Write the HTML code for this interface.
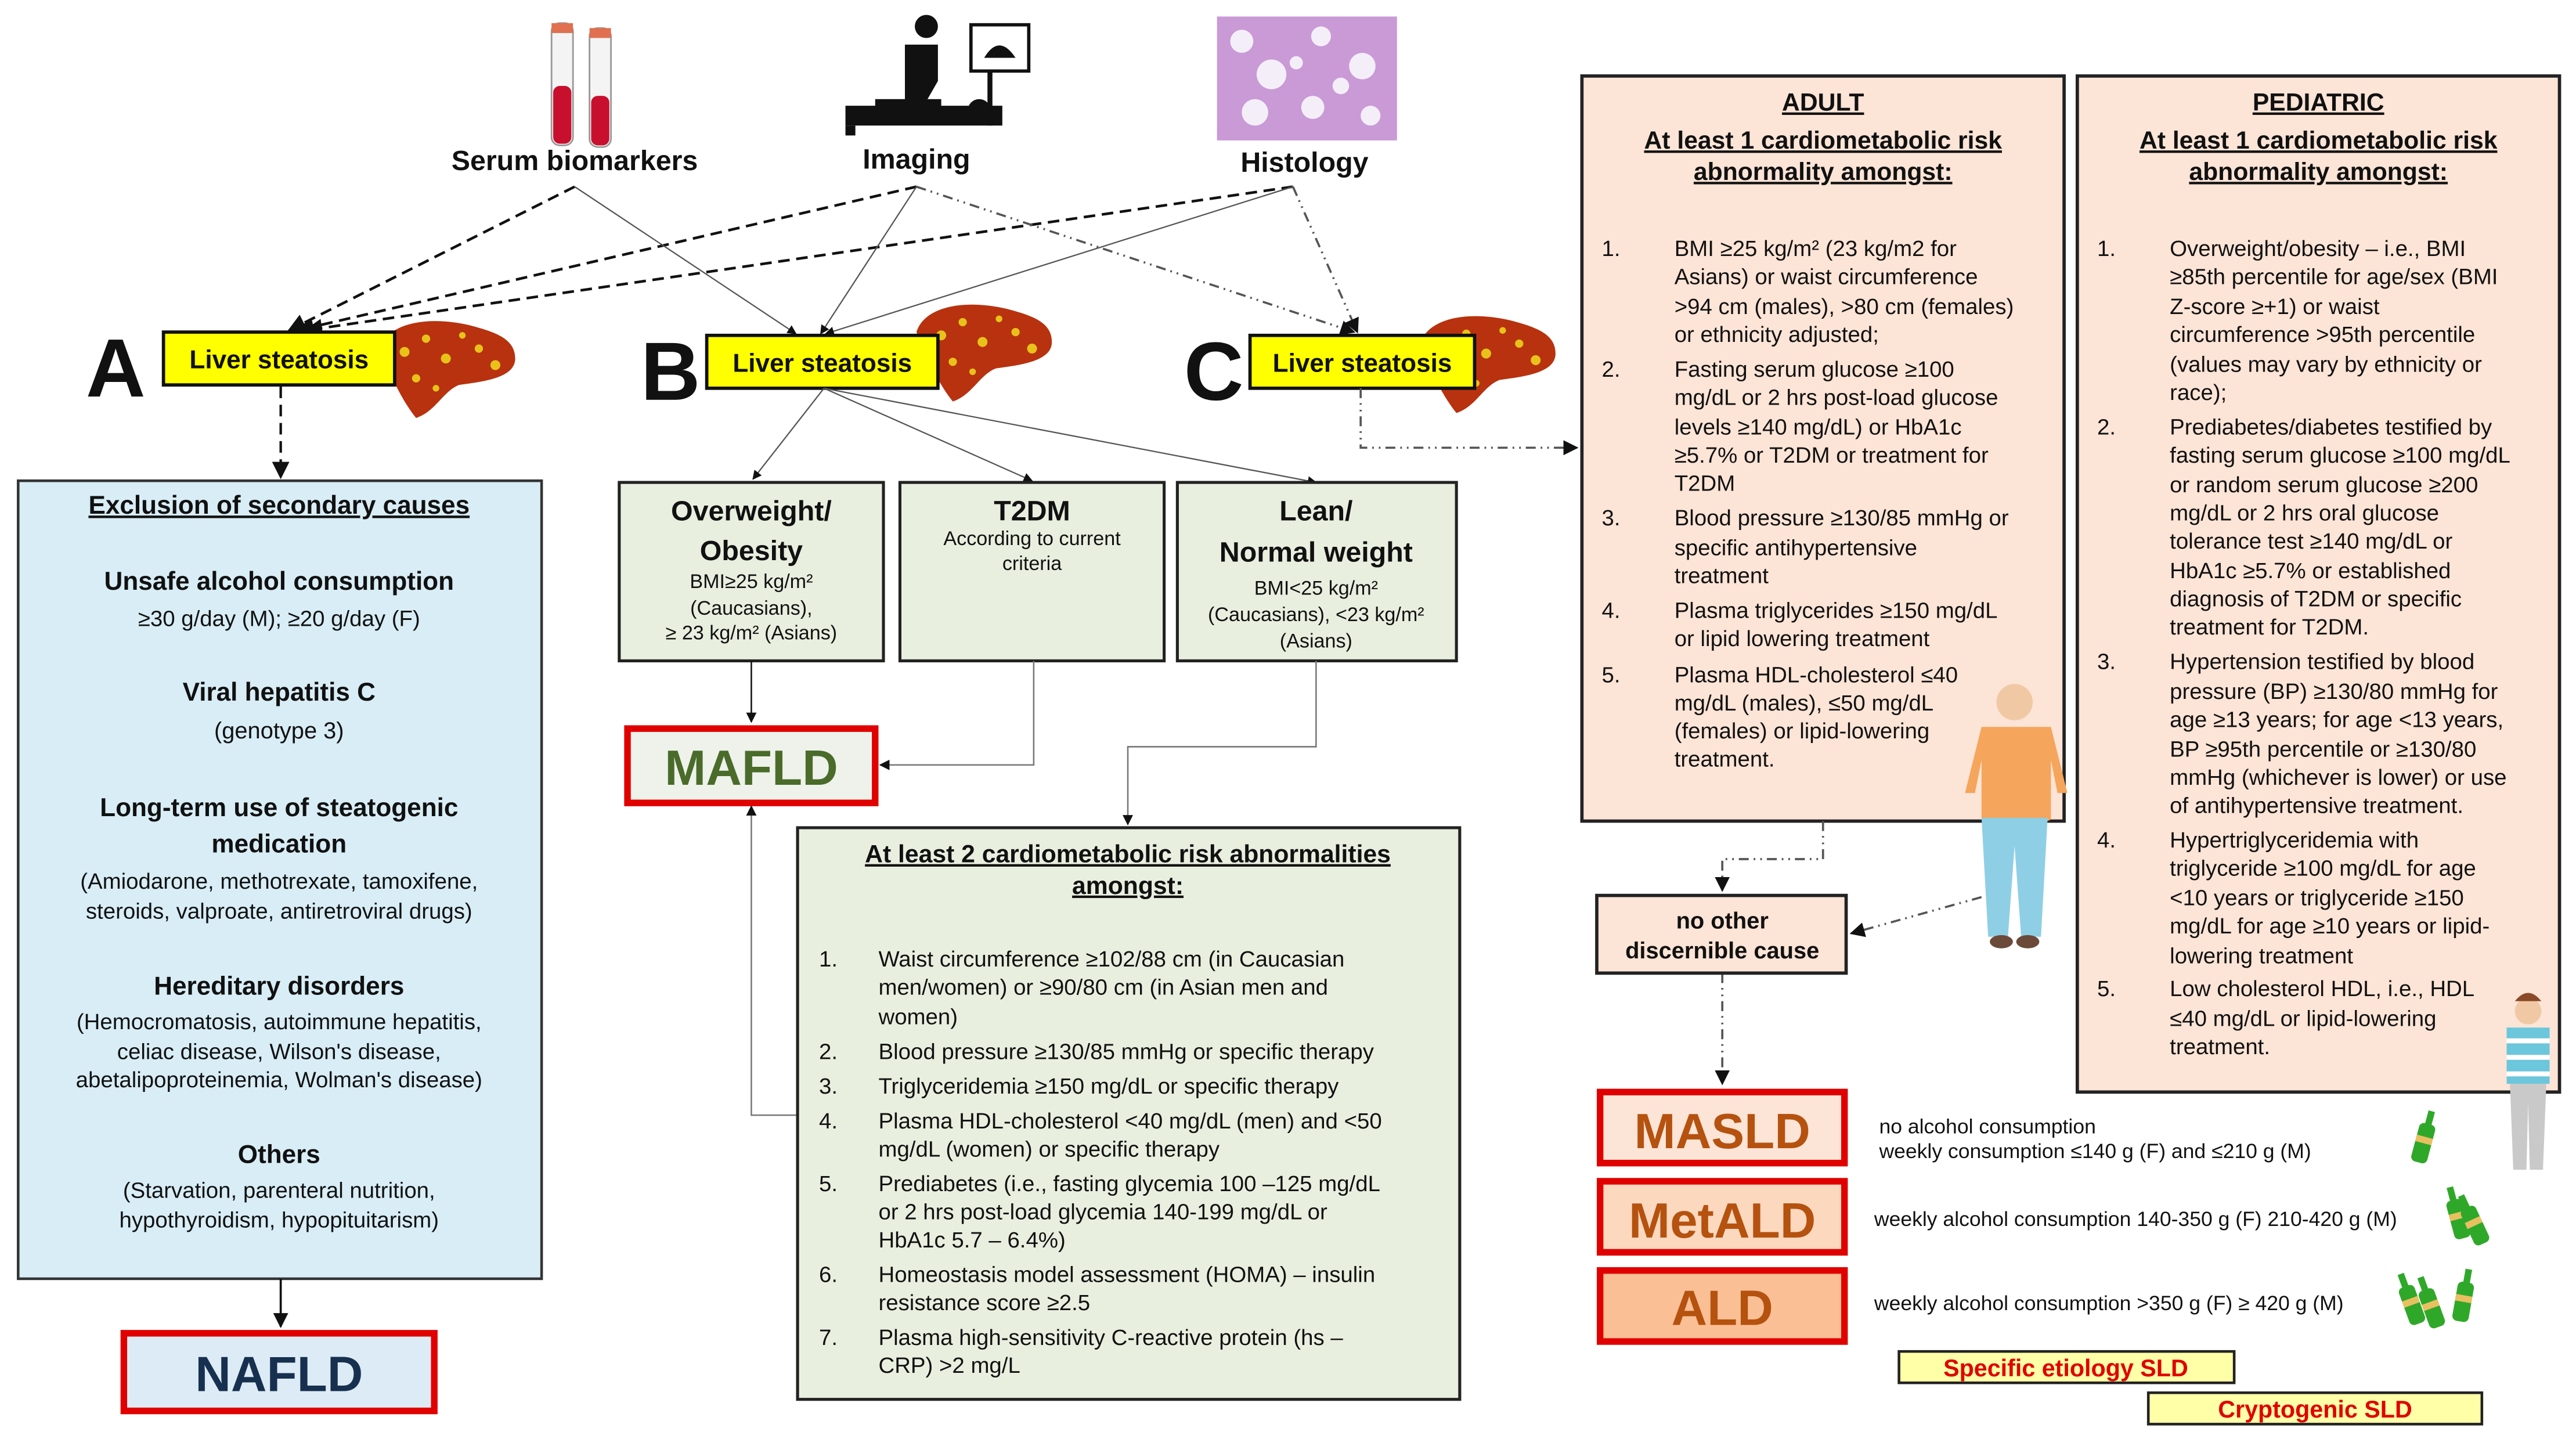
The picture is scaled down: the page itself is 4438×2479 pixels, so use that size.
<!DOCTYPE html>
<html><head><meta charset="utf-8"><style>
html,body{margin:0;padding:0;background:#fff}
svg{display:block}
text{font-family:"Liberation Sans",Arial,sans-serif;fill:#111}
.b{font-weight:bold}
.it{font-size:13.5px}
</style></head><body>
<svg width="4438" height="2479" viewBox="0 0 1560 871" preserveAspectRatio="none" xmlns="http://www.w3.org/2000/svg">
<defs>
<marker id="ar" viewBox="0 0 10 10" refX="9" refY="5" markerWidth="7" markerHeight="7" orient="auto-start-reverse"><path d="M0,0 L10,5 L0,10 z" fill="#111"/></marker>
<g id="liver"><path d="M0,18 C5,2 30,-2 55,4 C70,8 82,12 82,24 C82,36 62,38 48,40 C38,44 34,56 22,60 C14,50 8,38 0,18 z" fill="#B8320F"/><circle cx="15" cy="20" r="3" fill="#E8C21A"/><circle cx="28" cy="12" r="2.5" fill="#E8C21A"/><circle cx="40" cy="24" r="3" fill="#E8C21A"/><circle cx="22" cy="36" r="2.5" fill="#E8C21A"/><circle cx="60" cy="18" r="2.5" fill="#E8C21A"/><circle cx="70" cy="28" r="3" fill="#E8C21A"/><circle cx="34" cy="42" r="2" fill="#E8C21A"/><circle cx="50" cy="10" r="2" fill="#E8C21A"/></g>
<g id="bottle"><rect x="-5" y="8" width="10" height="24" rx="3" fill="#2fa82a"/><rect x="-2" y="0" width="4" height="10" fill="#2fa82a"/><rect x="-5" y="16" width="10" height="4" fill="#e8c060"/></g>
</defs>

<!-- top icons -->
<rect x="334" y="14" width="13" height="74" rx="5" fill="#f4f4f4" stroke="#999"/><rect x="335" y="52" width="11" height="35" rx="4" fill="#c8102e"/><rect x="334" y="14" width="13" height="6" fill="#e07050"/>
<rect x="357" y="17" width="13" height="72" rx="5" fill="#f4f4f4" stroke="#999"/><rect x="358" y="58" width="11" height="30" rx="4" fill="#c8102e"/><rect x="357" y="17" width="13" height="6" fill="#e07050"/>
<text x="348" y="103" class="b" font-size="17" text-anchor="middle">Serum biomarkers</text>
<g fill="#111"><circle cx="561" cy="16" r="7"/><path d="M548,27 h20 v22 l-8,14 h-12 z"/><rect x="512" y="64" width="95" height="12"/><rect x="512" y="76" width="6" height="6"/><rect x="598" y="40" width="3" height="36"/><circle cx="593" cy="67" r="7"/><path d="M530,60 h40 v6 h-40z"/></g>
<rect x="588" y="15" width="35" height="28" fill="#fff" stroke="#111" stroke-width="2"/><path d="M596,35 Q605,20 615,35 z" fill="#111"/>
<text x="555" y="102" class="b" font-size="17" text-anchor="middle">Imaging</text>
<rect x="737" y="10" width="109" height="75" fill="#c99ad6"/>
<g fill="#f4eef8"><circle cx="752" cy="25" r="7"/><circle cx="770" cy="45" r="9"/><circle cx="800" cy="22" r="6"/><circle cx="825" cy="40" r="8"/><circle cx="760" cy="68" r="8"/><circle cx="795" cy="65" r="7"/><circle cx="830" cy="70" r="6"/><circle cx="812" cy="52" r="5"/><circle cx="785" cy="38" r="4"/></g>
<text x="790" y="104" class="b" font-size="17" text-anchor="middle">Histology</text>

<!-- connectors from top -->
<g fill="none" stroke="#111" stroke-width="1.6" stroke-dasharray="7 4">
<path d="M348,113 L175,200" marker-end="url(#ar)"/><path d="M555,113 L180,200" marker-end="url(#ar)"/><path d="M783,113 L185,200" marker-end="url(#ar)"/>
</g>
<g fill="none" stroke="#555" stroke-width="0.8">
<path d="M348,113 L482,202" marker-end="url(#ar)"/><path d="M555,113 L497,202" marker-end="url(#ar)"/><path d="M783,113 L500,202" marker-end="url(#ar)"/>
</g>
<g fill="none" stroke="#555" stroke-width="1.3" stroke-dasharray="6 3 1 3 1 3">
<path d="M555,113 L820,201" marker-end="url(#ar)"/><path d="M783,113 L822,201" marker-end="url(#ar)"/>
</g>

<!-- A B C -->
<text x="52" y="240" class="b" font-size="50">A</text>
<text x="388" y="242" class="b" font-size="50">B</text>
<text x="717" y="242" class="b" font-size="50">C</text>
<use href="#liver" x="230" y="193"/>
<use href="#liver" x="555" y="183"/>
<use href="#liver" x="860" y="190"/>
<rect x="99" y="201" width="140" height="32" fill="#ffff00" stroke="#111" stroke-width="2"/>
<text x="169" y="223" class="b" font-size="15.5" text-anchor="middle">Liver steatosis</text>
<rect x="428" y="203" width="140" height="32" fill="#ffff00" stroke="#111" stroke-width="2"/>
<text x="498" y="225" class="b" font-size="15.5" text-anchor="middle">Liver steatosis</text>
<rect x="757" y="203" width="136" height="32" fill="#ffff00" stroke="#111" stroke-width="2"/>
<text x="825" y="225" class="b" font-size="15.5" text-anchor="middle">Liver steatosis</text>

<!-- A column -->
<path d="M170,234 V289" stroke="#111" stroke-width="1.5" stroke-dasharray="7 4" fill="none" marker-end="url(#ar)"/>
<rect x="11" y="291" width="317" height="483" fill="#d8edf6" stroke="#333" stroke-width="1.6"/>
<g text-anchor="middle">
<text x="169" y="311" class="b" font-size="15.5" text-decoration="underline">Exclusion of secondary causes</text>
<text x="169" y="357" class="b" font-size="15.5">Unsafe alcohol consumption</text>
<text x="169" y="379" font-size="13.5">≥30 g/day (M); ≥20 g/day (F)</text>
<text x="169" y="424" class="b" font-size="15.5">Viral hepatitis C</text>
<text x="169" y="447" font-size="14">(genotype 3)</text>
<text x="169" y="494" class="b" font-size="15.5">Long-term use of steatogenic</text>
<text x="169" y="516" class="b" font-size="15.5">medication</text>
<text x="169" y="538" font-size="13.5">(Amiodarone, methotrexate, tamoxifene,</text>
<text x="169" y="556" font-size="13.5">steroids, valproate, antiretroviral drugs)</text>
<text x="169" y="602" class="b" font-size="15.5">Hereditary disorders</text>
<text x="169" y="623" font-size="13.5">(Hemocromatosis, autoimmune hepatitis,</text>
<text x="169" y="641" font-size="13.5">celiac disease, Wilson's disease,</text>
<text x="169" y="658" font-size="13.5">abetalipoproteinemia, Wolman's disease)</text>
<text x="169" y="704" class="b" font-size="15.5">Others</text>
<text x="169" y="725" font-size="13.5">(Starvation, parenteral nutrition,</text>
<text x="169" y="743" font-size="13.5">hypothyroidism, hypopituitarism)</text>
</g>
<path d="M170,774 V803" stroke="#111" stroke-width="1.3" fill="none" marker-end="url(#ar)"/>
<rect x="75" y="807" width="188" height="47" fill="#dcebf5" stroke="#e00000" stroke-width="4"/>
<text x="169" y="842" class="b" font-size="30" text-anchor="middle" style="fill:#17304f">NAFLD</text>

<!-- B column -->
<g fill="none" stroke="#555" stroke-width="0.8">
<path d="M499,235 L456,290" marker-end="url(#ar)"/><path d="M499,235 L625,291" marker-end="url(#ar)"/><path d="M499,235 L797,292" marker-end="url(#ar)"/>
</g>
<g fill="#e8efdf" stroke="#222" stroke-width="1.8">
<rect x="375" y="292" width="160" height="108"/><rect x="545" y="292" width="160" height="108"/><rect x="713" y="292" width="169" height="108"/>
</g>
<g text-anchor="middle">
<text x="455" y="315" class="b" font-size="17">Overweight/</text>
<text x="455" y="339" class="b" font-size="17">Obesity</text>
<text x="455" y="356" font-size="12">BMI≥25 kg/m²</text>
<text x="455" y="372" font-size="12">(Caucasians),</text>
<text x="455" y="387" font-size="12">≥ 23 kg/m² (Asians)</text>
<text x="625" y="315" class="b" font-size="17">T2DM</text>
<text x="625" y="330" font-size="12">According to current</text>
<text x="625" y="345" font-size="12">criteria</text>
<text x="797" y="315" class="b" font-size="17">Lean/</text>
<text x="797" y="340" class="b" font-size="17">Normal weight</text>
<text x="797" y="360" font-size="12">BMI&lt;25 kg/m²</text>
<text x="797" y="376" font-size="12">(Caucasians), &lt;23 kg/m²</text>
<text x="797" y="392" font-size="12">(Asians)</text>
</g>
<g fill="none" stroke="#777" stroke-width="0.9">
<path d="M455,400 V437" stroke="#111" marker-end="url(#ar)"/>
<path d="M626,400 V463 H533" marker-end="url(#ar)"/>
<path d="M797,400 V452 H683 V499" marker-end="url(#ar)"/>
<path d="M483,675 H455 V488" marker-end="url(#ar)"/>
</g>
<rect x="380" y="441" width="150" height="45" fill="#eef2ea" stroke="#e00000" stroke-width="4"/>
<text x="455" y="475" class="b" font-size="30" text-anchor="middle" style="fill:#4a6b2a">MAFLD</text>

<rect x="483" y="501" width="401" height="346" fill="#e8efdf" stroke="#222" stroke-width="1.8"/>
<text x="683" y="522" class="b" font-size="15" text-anchor="middle" text-decoration="underline">At least 2 cardiometabolic risk abnormalities</text>
<text x="683" y="541" class="b" font-size="15" text-anchor="middle" text-decoration="underline">amongst:</text>
<g class="it">
<text x="496" y="585">1.</text><text x="532" y="585">Waist circumference ≥102/88 cm (in Caucasian</text><text x="532" y="602">men/women) or ≥90/80 cm (in Asian men and</text><text x="532" y="620">women)</text>
<text x="496" y="641">2.</text><text x="532" y="641">Blood pressure ≥130/85 mmHg or specific therapy</text>
<text x="496" y="662">3.</text><text x="532" y="662">Triglyceridemia ≥150 mg/dL or specific therapy</text>
<text x="496" y="683">4.</text><text x="532" y="683">Plasma HDL-cholesterol &lt;40 mg/dL (men) and &lt;50</text><text x="532" y="700">mg/dL (women) or specific therapy</text>
<text x="496" y="721">5.</text><text x="532" y="721">Prediabetes (i.e., fasting glycemia 100 –125 mg/dL</text><text x="532" y="738">or 2 hrs post-load glycemia 140-199 mg/dL or</text><text x="532" y="755">HbA1c 5.7 – 6.4%)</text>
<text x="496" y="776">6.</text><text x="532" y="776">Homeostasis model assessment (HOMA) – insulin</text><text x="532" y="793">resistance score ≥2.5</text>
<text x="496" y="814">7.</text><text x="532" y="814">Plasma high-sensitivity C-reactive protein (hs –</text><text x="532" y="831">CRP) &gt;2 mg/L</text>
</g>

<!-- C column -->
<path d="M824,235 V271 H955" fill="none" stroke="#555" stroke-width="1.3" stroke-dasharray="6 3 1 3 1 3" marker-end="url(#ar)"/>
<rect x="958" y="46" width="292" height="451" fill="#fce4d6" stroke="#222" stroke-width="2"/>
<rect x="1258" y="46" width="292" height="615" fill="#fce4d6" stroke="#222" stroke-width="2"/>
<g text-anchor="middle" class="b" font-size="15">
<text x="1104" y="67" text-decoration="underline">ADULT</text>
<text x="1104" y="90" text-decoration="underline">At least 1 cardiometabolic risk</text>
<text x="1104" y="109" text-decoration="underline">abnormality amongst:</text>
<text x="1404" y="67" text-decoration="underline">PEDIATRIC</text>
<text x="1404" y="90" text-decoration="underline">At least 1 cardiometabolic risk</text>
<text x="1404" y="109" text-decoration="underline">abnormality amongst:</text>
</g>
<g class="it">
<text x="970" y="155">1.</text><text x="1014" y="155">BMI ≥25 kg/m² (23 kg/m2 for</text><text x="1014" y="172">Asians) or waist circumference</text><text x="1014" y="190">&gt;94 cm (males), &gt;80 cm (females)</text><text x="1014" y="207">or ethnicity adjusted;</text>
<text x="970" y="228">2.</text><text x="1014" y="228">Fasting serum glucose ≥100</text><text x="1014" y="245">mg/dL or 2 hrs post-load glucose</text><text x="1014" y="263">levels ≥140 mg/dL) or HbA1c</text><text x="1014" y="280">≥5.7% or T2DM or treatment for</text><text x="1014" y="297">T2DM</text>
<text x="970" y="318">3.</text><text x="1014" y="318">Blood pressure ≥130/85 mmHg or</text><text x="1014" y="336">specific antihypertensive</text><text x="1014" y="353">treatment</text>
<text x="970" y="374">4.</text><text x="1014" y="374">Plasma triglycerides ≥150 mg/dL</text><text x="1014" y="391">or lipid lowering treatment</text>
<text x="970" y="413">5.</text><text x="1014" y="413">Plasma HDL-cholesterol ≤40</text><text x="1014" y="430">mg/dL (males), ≤50 mg/dL</text><text x="1014" y="447">(females) or lipid-lowering</text><text x="1014" y="464">treatment.</text>

<text x="1270" y="155">1.</text><text x="1314" y="155">Overweight/obesity – i.e., BMI</text><text x="1314" y="172">≥85th percentile for age/sex (BMI</text><text x="1314" y="190">Z-score ≥+1) or waist</text><text x="1314" y="207">circumference &gt;95th percentile</text><text x="1314" y="225">(values may vary by ethnicity or</text><text x="1314" y="242">race);</text>
<text x="1270" y="263">2.</text><text x="1314" y="263">Prediabetes/diabetes testified by</text><text x="1314" y="280">fasting serum glucose ≥100 mg/dL</text><text x="1314" y="298">or random serum glucose ≥200</text><text x="1314" y="315">mg/dL or 2 hrs oral glucose</text><text x="1314" y="332">tolerance test ≥140 mg/dL or</text><text x="1314" y="350">HbA1c ≥5.7% or established</text><text x="1314" y="367">diagnosis of T2DM or specific</text><text x="1314" y="384">treatment for T2DM.</text>
<text x="1270" y="405">3.</text><text x="1314" y="405">Hypertension testified by blood</text><text x="1314" y="423">pressure (BP) ≥130/80 mmHg for</text><text x="1314" y="440">age ≥13 years; for age &lt;13 years,</text><text x="1314" y="458">BP ≥95th percentile or ≥130/80</text><text x="1314" y="475">mmHg (whichever is lower) or use</text><text x="1314" y="492">of antihypertensive treatment.</text>
<text x="1270" y="513">4.</text><text x="1314" y="513">Hypertriglyceridemia with</text><text x="1314" y="530">triglyceride ≥100 mg/dL for age</text><text x="1314" y="548">&lt;10 years or triglyceride ≥150</text><text x="1314" y="565">mg/dL for age ≥10 years or lipid-</text><text x="1314" y="583">lowering treatment</text>
<text x="1270" y="603">5.</text><text x="1314" y="603">Low cholesterol HDL, i.e., HDL</text><text x="1314" y="621">≤40 mg/dL or lipid-lowering</text><text x="1314" y="638">treatment.</text>
</g>

<!-- adult man -->
<circle cx="1220" cy="425" r="11" fill="#f1c8a4"/>
<path d="M1200,440 h42 l10,40 h-6 l-4,-20 v36 q-20,10 -42,0 v-36 l-4,20 h-6 z" fill="#f5a55c"/>
<path d="M1200,495 h40 l-4,72 h-12 l-4,-55 l-4,55 h-12 z" fill="#8fcfe6"/>
<ellipse cx="1212" cy="570" rx="7" ry="4" fill="#6b4a3a"/><ellipse cx="1228" cy="570" rx="7" ry="4" fill="#6b4a3a"/>
<!-- boy -->
<circle cx="1531" cy="612" r="8" fill="#f1c8a4"/><path d="M1523,606 q8,-10 16,0 z" fill="#8a4a2a"/>
<path d="M1518,622 h26 v34 h-26 z" fill="#6cc6dc"/><path d="M1518,630 h26 M1518,640 h26 M1518,650 h26" stroke="#fff" stroke-width="3"/>
<path d="M1520,656 h22 l-2,52 h-8 l-1,-40 l-1,40 h-8 z" fill="#c9c9c9"/>

<!-- bottom right flow -->
<g fill="none" stroke="#555" stroke-width="1.3" stroke-dasharray="6 3 1 3 1 3">
<path d="M1104,497 V520 H1043 V539" marker-end="url(#ar)"/>
<path d="M1200,543 L1121,565" marker-end="url(#ar)"/>
<path d="M1043,589 V656" marker-end="url(#ar)"/>
</g>
<rect x="967" y="542" width="151" height="47" fill="#fce4d6" stroke="#222" stroke-width="2"/>
<text x="1043" y="562" class="b" font-size="14" text-anchor="middle">no other</text>
<text x="1043" y="580" class="b" font-size="14" text-anchor="middle">discernible cause</text>

<rect x="969" y="661" width="148" height="43" fill="#fce4d6" stroke="#e00000" stroke-width="4"/>
<text x="1043" y="695" class="b" font-size="30" text-anchor="middle" style="fill:#b5520f">MASLD</text>
<rect x="969" y="715" width="148" height="43" fill="#fcd8bf" stroke="#e00000" stroke-width="4"/>
<text x="1043" y="749" class="b" font-size="30" text-anchor="middle" style="fill:#b5520f">MetALD</text>
<rect x="969" y="769" width="148" height="43" fill="#fbbf95" stroke="#e00000" stroke-width="4"/>
<text x="1043" y="802" class="b" font-size="30" text-anchor="middle" style="fill:#b5520f">ALD</text>

<g font-size="12.5">
<text x="1138" y="686">no alcohol consumption</text>
<text x="1138" y="701">weekly consumption ≤140 g (F) and ≤210 g (M)</text>
<text x="1135" y="742">weekly alcohol consumption 140-350 g (F) 210-420 g (M)</text>
<text x="1135" y="793">weekly alcohol consumption &gt;350 g (F) ≥ 420 g (M)</text>
</g>
<use href="#bottle" x="1468" y="672" transform="rotate(15 1468 690)"/>
<use href="#bottle" x="1488" y="718" transform="rotate(-15 1488 735)"/>
<use href="#bottle" x="1498" y="722" transform="rotate(-25 1498 740)"/>
<use href="#bottle" x="1460" y="770" transform="rotate(-20 1460 788)"/>
<use href="#bottle" x="1472" y="772" transform="rotate(-20 1472 790)"/>
<use href="#bottle" x="1492" y="768" transform="rotate(10 1492 786)"/>

<rect x="1150" y="818" width="203" height="19" fill="#ffffa8" stroke="#222" stroke-width="1.6"/>
<text x="1251" y="833" class="b" font-size="14.5" text-anchor="middle" style="fill:#e00000">Specific etiology SLD</text>
<rect x="1301" y="843" width="202" height="19" fill="#ffffa8" stroke="#222" stroke-width="1.6"/>
<text x="1402" y="858" class="b" font-size="14.5" text-anchor="middle" style="fill:#e00000">Cryptogenic SLD</text>
</svg>
</body></html>
